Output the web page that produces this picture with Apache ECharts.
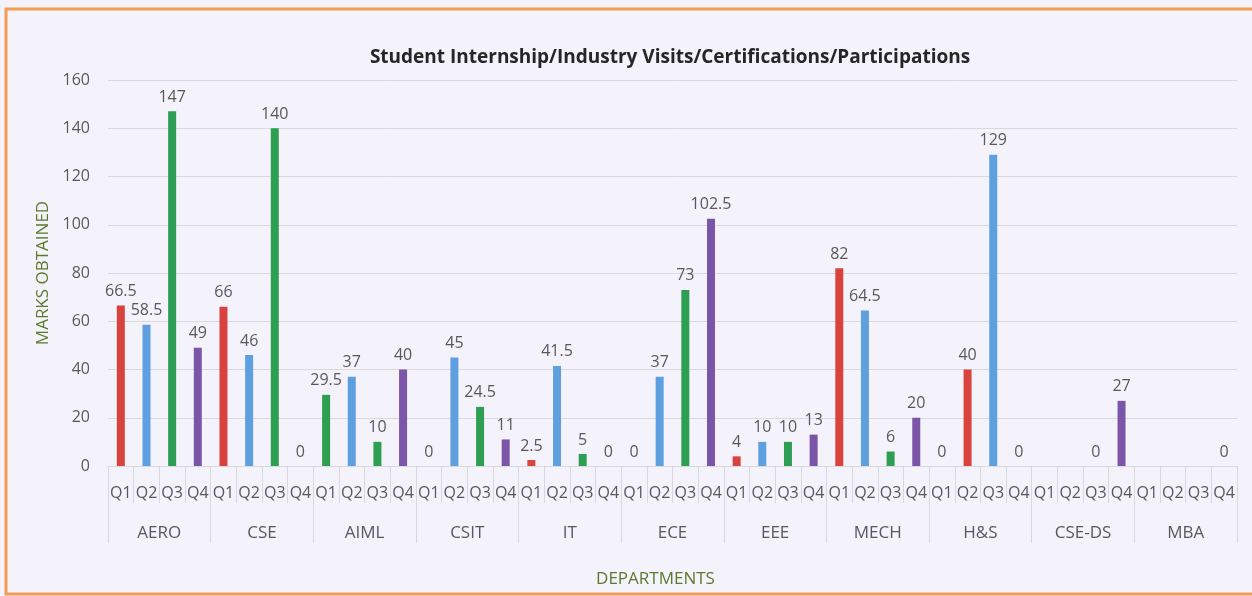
<!DOCTYPE html>
<html>
<head>
<meta charset="utf-8">
<script src="https://cdn.jsdelivr.net/npm/echarts@6/dist/echarts.min.js"></script>
<style>
  html, body { margin: 0; padding: 0; background: #F6F4FB; }
  #chart { width: 1252px; height: 596px; }
</style>
</head>
<body>
<div id="chart"></div>
<script>
// ---- data ----
const departments = ['AERO', 'CSE', 'AIML', 'CSIT', 'IT', 'ECE', 'EEE', 'MECH', 'H&S', 'CSE-DS', 'MBA'];
const quarters = ['Q1', 'Q2', 'Q3', 'Q4'];
// one value per department-quarter slot (4 per department), null = no bar
const redValues = [
  66.5, null, null, null,   // AERO
  66, null, null, null,     // CSE
  null, null, null, null,   // AIML
  0, null, null, null,      // CSIT
  2.5, null, null, null,    // IT
  0, null, null, null,      // ECE
  4, null, null, null,      // EEE
  82, null, null, null,     // MECH
  0, 40, null, null,        // H&S
  null, null, null, null,   // CSE-DS
  null, null, null, null    // MBA
];
const blueValues = [
  null, 58.5, null, null,
  null, 46, null, null,
  null, 37, null, null,
  null, 45, null, null,
  null, 41.5, null, null,
  null, 37, null, null,
  null, 10, null, null,
  null, 64.5, null, null,
  null, null, 129, null,
  null, null, null, null,
  null, null, null, null
];
const greenValues = [
  null, null, 147, null,
  null, null, 140, null,
  29.5, null, 10, null,
  null, null, 24.5, null,
  null, null, 5, null,
  null, null, 73, null,
  null, null, 10, null,
  null, null, 6, null,
  null, null, null, null,
  null, null, 0, null,
  null, null, null, null
];
const purpleValues = [
  null, null, null, 49,
  null, null, null, 0,
  null, null, null, 40,
  null, null, null, 11,
  null, null, null, 0,
  null, null, null, 102.5,
  null, null, null, 13,
  null, null, null, 20,
  null, null, null, 0,
  null, null, null, 27,
  null, null, null, 0
];
const yTicks = { min: 0, max: 160, interval: 20 };

const slotLabels = [];
departments.forEach(() => quarters.forEach(q => slotLabels.push(q)));

const FONT = '"Open Sans", "Noto Sans", sans-serif';
const GREY = '#595959';
const OLIVE = '#5B7A2E';
const LINE = '#D9D9DC';

function barSeries(name, data, color) {
  return {
    name: name,
    type: 'bar',
    xAxisIndex: 0,
    data: data,
    barWidth: 8,
    barGap: '-100%',
    itemStyle: { color: color },
    label: {
      show: true,
      position: 'top',
      distance: 6,
      color: GREY,
      fontFamily: FONT,
      fontSize: 16,
      formatter: p => (p.value === null || p.value === undefined) ? '' : String(p.value)
    }
  };
}

const chart = echarts.init(document.getElementById('chart'), null, { renderer: 'canvas' });
chart.setOption({
  backgroundColor: '#F4F2FA',
  animation: false,
  textStyle: { fontFamily: FONT },
  title: {
    text: 'Student Internship/Industry Visits/Certifications/Participations',
    left: 665,
    textAlign: 'center',
    top: 43,
    textStyle: { fontFamily: FONT, fontSize: 19, fontWeight: 'bold', color: '#262626' }
  },
  graphic: [
    {
      type: 'rect',
      shape: { x: 6, y: 9, width: 1260, height: 585 },
      style: { fill: 'none', stroke: '#F39C56', lineWidth: 3 },
      silent: true
    }
  ],
  grid: { left: 108, right: 15, top: 80, bottom: 130, containLabel: false },
  xAxis: [
    {
      type: 'category',
      data: slotLabels,
      position: 'bottom',
      axisLine: { show: true, lineStyle: { color: LINE } },
      axisTick: { show: true, length: 37, lineStyle: { color: LINE } },
      axisLabel: { interval: 0, margin: 19, color: GREY, fontFamily: FONT, fontSize: 16 }
    },
    {
      type: 'category',
      data: departments,
      position: 'bottom',
      offset: 0,
      axisLine: { show: false },
      axisTick: { show: true, length: 77, lineStyle: { color: LINE } },
      axisLabel: { interval: 0, margin: 59, color: GREY, fontFamily: FONT, fontSize: 17 },
      name: 'DEPARTMENTS',
      nameLocation: 'middle',
      nameGap: 105,
      nameTextStyle: { color: OLIVE, fontFamily: FONT, fontSize: 17, padding: [0, 34, 0, 0] }
    }
  ],
  yAxis: {
    type: 'value',
    min: yTicks.min,
    max: yTicks.max,
    interval: yTicks.interval,
    axisLine: { show: false },
    axisTick: { show: false },
    axisLabel: { color: GREY, fontFamily: FONT, fontSize: 16, margin: 18 },
    splitLine: { lineStyle: { color: LINE, width: 1 } },
    name: 'MARKS OBTAINED',
    nameLocation: 'middle',
    nameRotate: 90,
    nameGap: 55,
    nameTextStyle: { color: OLIVE, fontFamily: FONT, fontSize: 17 }
  },
  series: [
    barSeries('Red', redValues, '#D9433E'),
    barSeries('Blue', blueValues, '#5E9FE0'),
    barSeries('Green', greenValues, '#2E9E52'),
    barSeries('Purple', purpleValues, '#7A55A8')
  ]
});
</script>
</body>
</html>
